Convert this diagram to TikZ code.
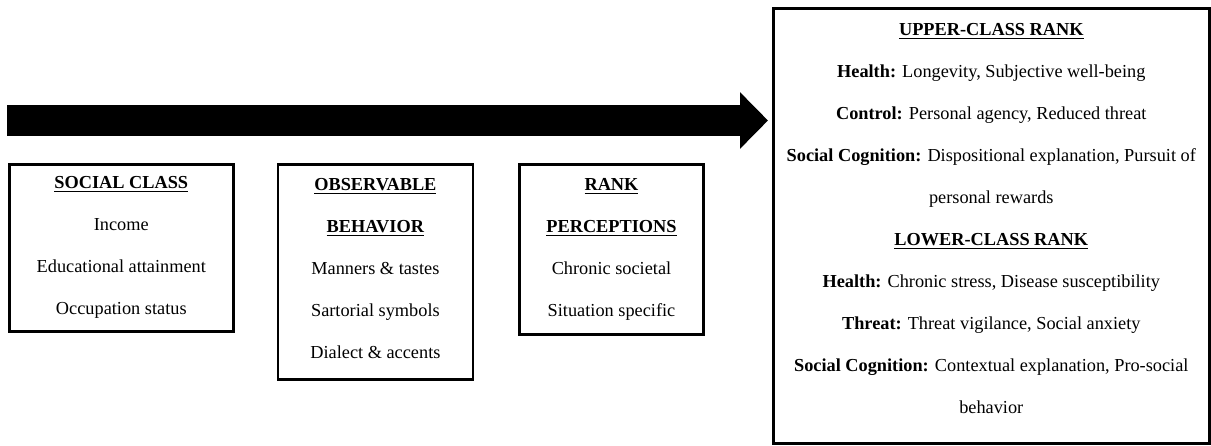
\documentclass[tikz,border=0pt]{standalone}
\usepackage{fontspec}
\setmainfont{Liberation Serif}
\usetikzlibrary{arrows.meta,positioning}

\tikzset{
  box/.style={draw, line width=1.3pt, anchor=north west, align=center, inner sep=0pt,
    font=\fontsize{9.15}{21}\selectfont},
  bigarrow/.style={line width=15.5pt, -{Triangle[length=14pt,width=27.5pt]}},
}
\newcommand{\heading}[1]{\underline{\textbf{#1}}}
\newcommand{\lowend}[1]{\rule[-#1]{0pt}{#1}}

\begin{document}
\begin{tikzpicture}[x=0.5pt,y=-0.5pt]
  \useasboundingbox (0,0) rectangle (1211,445);
  % the three boxes on the left
  \node[box, minimum width=112pt, minimum height=83.5pt] (social) at (8,163)
    {\heading{SOCIAL CLASS}\\Income\\Educational attainment\\Occupation status};
  \node[box, minimum width=97.5pt, minimum height=107.5pt, right=21pt of social.north east, anchor=north west] (behavior)
    {\heading{OBSERVABLE}\\\heading{BEHAVIOR}\\Manners \& tastes\\Sartorial symbols\\Dialect \& accents\lowend{3.5pt}};
  \node[box, minimum width=92pt, minimum height=85pt, right=22pt of behavior.north east, anchor=north west] (rank)
    {\heading{RANK}\\\heading{PERCEPTIONS}\\Chronic societal\\Situation specific};
  % outcomes
  \node[box, minimum width=218pt, minimum height=217.5pt] (outcome) at (772,7)
    {\heading{UPPER-CLASS RANK}\\
     \textbf{Health:} Longevity, Subjective well-being\\
     \textbf{Control:} Personal agency, Reduced threat\\
     \textbf{Social Cognition:} Dispositional explanation, Pursuit of\\
     personal rewards\\
     \heading{LOWER-CLASS RANK}\\
     \textbf{Health:} Chronic stress, Disease susceptibility\\
     \textbf{Threat:} Threat vigilance, Social anxiety\\
     \textbf{Social Cognition:} Contextual explanation, Pro-social\\
     behavior\lowend{7.5pt}};
  % big arrow
  \coordinate (tail) at (7,120.5);
  \draw[bigarrow, shorten >=2pt] (tail) -- (tail -| outcome.west);
\end{tikzpicture}
\end{document}
